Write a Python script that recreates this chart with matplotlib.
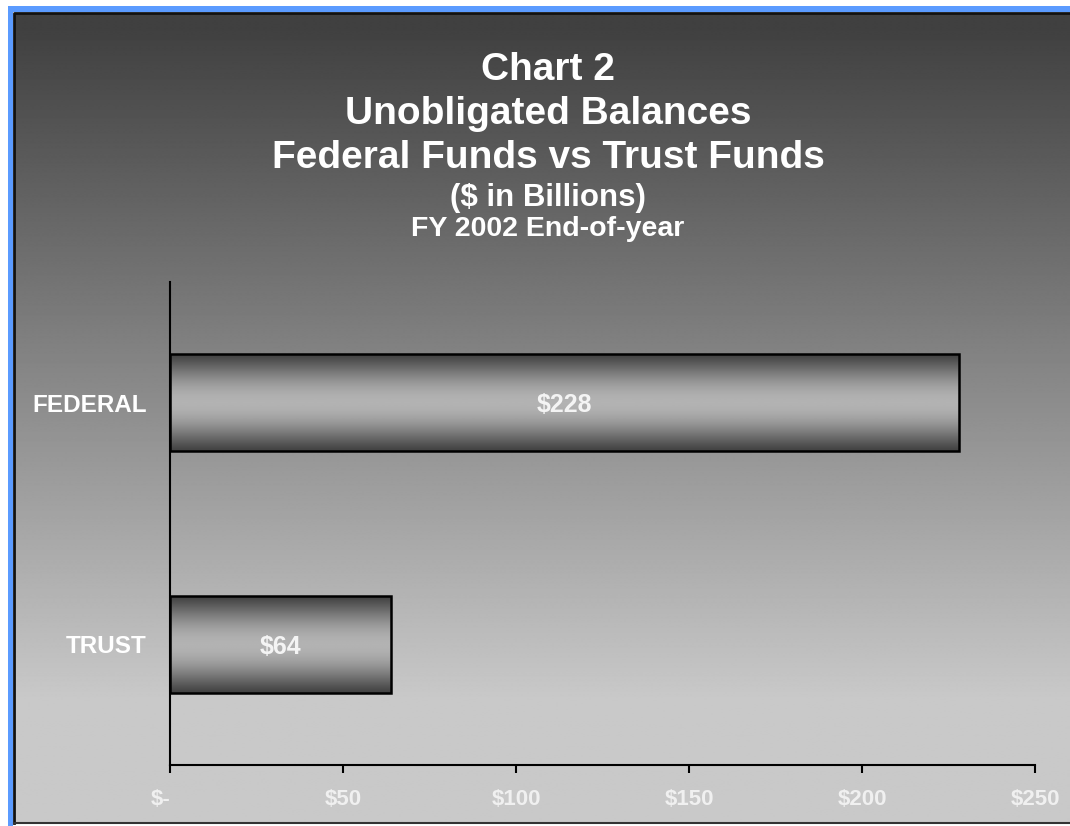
import numpy as np
import matplotlib.pyplot as plt
from matplotlib.patches import Rectangle

# data
categories = ['TRUST', 'FEDERAL']
values = [64, 228]
value_labels = ['$64', '$228']
x_ticks = [0, 50, 100, 150, 200, 250]
x_tick_labels = ['$-', '$50', '$100', '$150', '$200', '$250']
title_lines = ['Chart 2', 'Unobligated Balances', 'Federal Funds vs Trust Funds',
               '($ in Billions)', 'FY 2002 End-of-year']

plt.rcParams['font.family'] = ['Liberation Sans', 'DejaVu Sans']
plt.rcParams['font.weight'] = 'bold'

W, H = 1070, 826
fig = plt.figure(figsize=(W / 100, H / 100), dpi=100)
fig.patch.set_facecolor('white')

# background panel with vertical grey gradient
bg = fig.add_axes([0, 0, 1, 1], zorder=-5)
bg.set_xlim(0, W)
bg.set_ylim(H, 0)
bg.axis('off')
rows = np.arange(H)
shade = np.clip(64 + 137 * (rows - 14) / 686, 64, 201) / 255.0
grad = np.repeat(shade[:, None], 2, axis=1)
bg.imshow(grad, cmap='gray', vmin=0, vmax=1, extent=(14, W, 823, 13),
          aspect='auto', interpolation='bilinear')
bg.add_patch(Rectangle((8, 6), W - 8, 6, color='#5b9bff', lw=0))
bg.add_patch(Rectangle((8, 6), 5, H - 6, color='#5b9bff', lw=0))
bg.plot([14, 14, W], [H - 3, 13, 13], color='#111111', lw=2)
bg.plot([14, W], [H - 3, H - 3], color='#333333', lw=1.5)

# title block
title_y = [80, 124, 168, 206, 236]
title_size = [28, 28, 28, 22.5, 20.5]
for txt, yb, fs in zip(title_lines, title_y, title_size):
    fig.text(548 / W, 1 - yb / H, txt, ha='center', va='baseline',
             fontsize=fs, fontweight='bold', color='white')

# main axes
ax = fig.add_axes([170 / W, 1 - 765 / H, (1035 - 170) / W, (765 - 282) / H])
ax.patch.set_alpha(0)
ypos = np.arange(len(categories))
bar_h = 0.4

t = np.linspace(0, 1, 200)
prof = 0.26 + (0.70 - 0.26) * np.sin(np.pi * t) ** 1.2
bar_img = prof[:, None]
for y, v, lab in zip(ypos, values, value_labels):
    ax.imshow(bar_img, cmap='gray', vmin=0, vmax=1, aspect='auto',
              extent=(0, v, y - bar_h / 2, y + bar_h / 2), zorder=2,
              interpolation='bilinear')
    ax.text(v / 2, y, lab, ha='center', va='center_baseline', fontsize=18,
            fontweight='bold', color='#f4f4f4', zorder=4)
ax.barh(ypos, values, height=bar_h, fill=False, edgecolor='black',
        linewidth=1.8, zorder=3)

ax.set_xlim(0, 250)
ax.set_ylim(-0.5, 1.5)
ax.set_xticks(x_ticks)
ax.set_xticklabels(x_tick_labels)
ax.set_yticks(ypos)
ax.set_yticklabels(categories)
ax.tick_params(axis='x', direction='out', length=6, width=1.5, pad=11,
               labelsize=16, labelcolor='#f0f0f0')
ax.tick_params(axis='y', length=0, pad=17, labelsize=17.5, labelcolor='white')
for lbl in ax.get_xticklabels() + ax.get_yticklabels():
    lbl.set_fontweight('bold')
# accounting-style zero label sits left of its tick
ax.get_xticklabels()[0].set_ha('right')
for s in ['top', 'right']:
    ax.spines[s].set_visible(False)
for s in ['left', 'bottom']:
    ax.spines[s].set_linewidth(1.5)
    ax.spines[s].set_color('black')

fig.savefig('out.png', dpi=100)
